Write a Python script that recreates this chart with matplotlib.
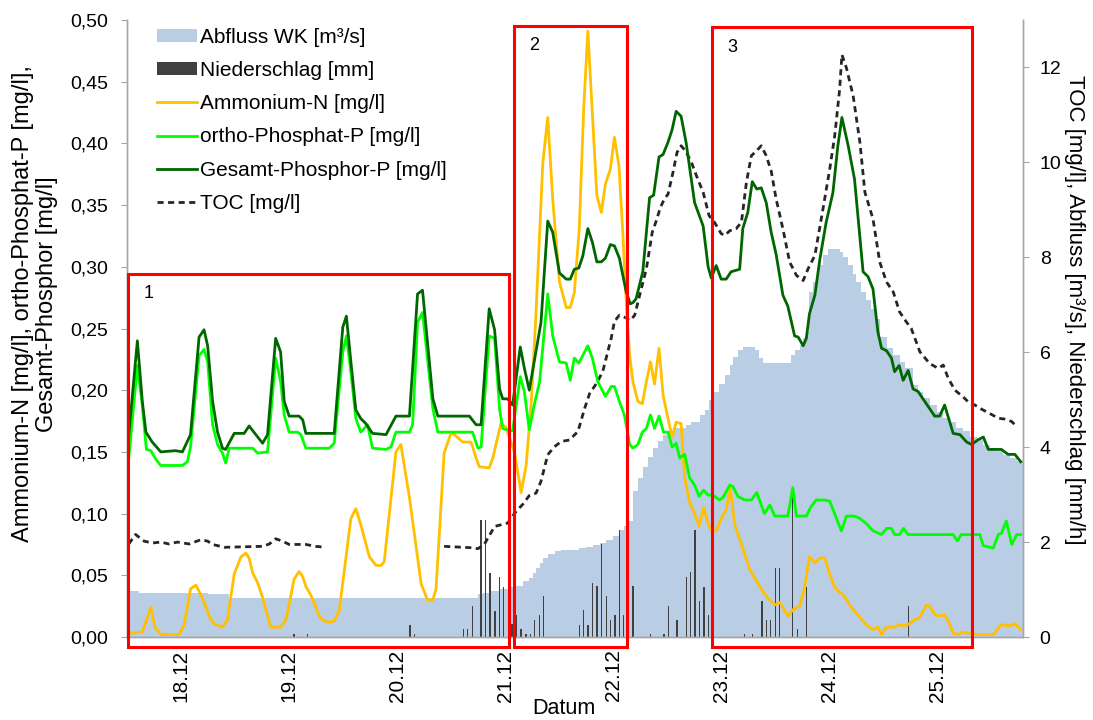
import numpy as np
import matplotlib
matplotlib.use("Agg")
import matplotlib.pyplot as plt
from matplotlib.patches import Rectangle, Patch
from matplotlib.lines import Line2D

plt.rcParams['font.family'] = ['Liberation Sans', 'DejaVu Sans']

# time axis: hours since 17.12. 00:00
day_ticks = [24, 48, 72, 96, 120, 144, 168, 192]
day_labels = ['18.12', '19.12', '20.12', '21.12', '22.12', '23.12', '24.12', '25.12']

left_ticks = [0, 0.05, 0.10, 0.15, 0.20, 0.25, 0.30, 0.35, 0.40, 0.45, 0.50]
left_labels = ['0,00', '0,05', '0,10', '0,15', '0,20', '0,25', '0,30', '0,35', '0,40', '0,45', '0,50']
right_ticks = [0, 2, 4, 6, 8, 10, 12]

# Abfluss WK [m3/s]
q_t = [12.0, 14.7, 17.6, 25.0, 30.0, 34.7, 88.7, 89.9, 91.0, 92.4, 94.7, 96.5, 98.4, 99.9,
       101.3, 102.1, 102.8, 103.6, 104.3, 105.4, 106.9, 108.4, 110.2, 112.4, 113.9, 115.4,
       116.9, 118.4, 119.9, 121.3, 122.4, 123.2, 124.3, 125.4, 126.5, 127.6, 128.7, 129.9,
       131.0, 132.1, 133.2, 134.7, 136.1, 137.3, 139.1, 140.2, 141.3, 142.4, 143.5, 144.7,
       145.8, 146.5, 147.6, 148.7, 150.2, 151.3, 152.4, 153.2, 158.7, 159.5, 160.2, 161.3,
       162.1, 162.8, 163.5, 164.3, 165.4, 166.5, 167.6, 169.5, 170.2, 171.0, 172.1, 173.2,
       173.9, 175.0, 176.1, 177.2, 178.0, 179.1, 180.6, 182.1, 183.5, 184.7, 186.5, 187.6,
       188.7, 190.2, 191.7, 193.2, 194.7, 196.1, 197.6, 199.1, 200.6, 202.1, 203.5, 205.0,
       206.5, 208.0, 209.5, 210.9]
q_v = [0.97, 0.93, 0.92, 0.92, 0.90, 0.83, 0.83, 0.90, 0.93, 0.97, 1.02, 1.05, 1.07, 1.18,
       1.25, 1.35, 1.46, 1.56, 1.67, 1.74, 1.81, 1.84, 1.84, 1.88, 1.89, 1.93,
       1.98, 2.05, 2.12, 2.26, 2.33, 2.44, 3.07, 3.35, 3.59, 3.80, 3.98, 4.12,
       4.26, 4.33, 4.40, 4.41, 4.47, 4.54, 4.68, 4.78, 4.99, 5.17, 5.34, 5.52,
       5.73, 5.90, 6.04, 6.11, 6.11, 6.04, 5.87, 5.78, 5.78, 5.94, 6.04, 6.15,
       6.29, 6.43, 7.26, 7.48, 7.83, 8.04, 8.18, 8.18, 8.11, 8.00, 7.83, 7.65,
       7.48, 7.27, 7.09, 6.92, 6.71, 6.32, 6.08, 5.94, 5.80, 5.66, 5.31, 5.17,
       5.03, 4.89, 4.75, 4.61, 4.54, 4.40, 4.33, 4.22, 4.15, 4.05, 3.98, 3.91,
       3.84, 3.77, 3.70, 3.64]

# Niederschlag [mm/h]
rain_t = [49.1, 52.1, 74.8, 75.8, 86.7, 87.6, 88.7, 90.6, 91.6, 92.6, 93.7, 94.7, 95.6,
          97.5, 98.5, 99.5, 100.6, 101.5, 102.4, 103.6, 104.5, 112.4, 113.4, 114.3, 115.3,
          116.3, 117.3, 118.4, 119.3, 120.3, 121.3, 122.2, 124.3, 128.2, 131.2, 132.2,
          134.1, 136.2, 137.1, 138.1, 139.1, 140.1, 141.1, 149.1, 150.9, 153.0, 153.9,
          154.9, 156.0, 156.9, 159.8, 160.8, 162.8, 185.5]
rain_v = [0.06, 0.06, 0.25, 0.06, 0.16, 0.16, 0.65, 2.47, 2.47, 1.35, 0.55, 1.26, 1.05,
          0.27, 0.46, 0.17, 0.06, 0.06, 0.36, 0.46, 0.86, 0.25, 0.56, 0.25, 1.14,
          1.07, 1.96, 0.86, 0.36, 0.46, 2.26, 0.46, 1.07, 0.06, 0.06, 0.65,
          0.36, 1.26, 1.37, 2.26, 0.76, 1.06, 0.46, 0.06, 0.06, 0.76, 0.36,
          0.36, 1.46, 1.46, 3.15, 0.16, 1.06, 0.65]

# Ammonium-N [mg/l]
nh_t = [12.4, 15.4, 17.3, 18.2, 19.5, 23.6, 24.7, 26.1, 27.3, 28.7, 30.6, 31.7, 33.2, 34.3,
        35.8, 37.3, 38.4, 39.1, 39.9, 41.0, 42.1, 43.9, 46.1, 47.3, 49.1, 50.2, 51.0, 51.7,
        52.8, 54.7, 55.8, 56.9, 58.0, 59.1, 61.7, 62.8, 63.9, 65.8, 67.3, 68.4, 69.1, 71.7,
        72.8, 74.7, 77.3, 78.7, 79.9, 80.6, 82.4, 83.9, 84.7, 86.5, 88.4, 89.5, 90.2, 92.4,
        93.2, 95.0, 96.1, 98.0, 99.5, 100.6, 101.7, 102.7, 104.3, 105.4, 106.5, 108.0, 109.5,
        110.4, 111.3, 112.4, 113.4, 114.3, 115.3, 116.3, 117.3, 118.2, 119.3, 120.2, 121.2,
        122.1, 123.0, 123.6, 124.3, 125.4, 126.4, 127.3, 128.2, 129.1, 130.1, 131.0, 132.1,
        133.0, 133.9, 135.0, 135.8, 136.9, 138.0, 139.0, 140.0, 141.0, 141.7, 142.8, 143.9,
        145.0, 145.9, 146.9, 148.7, 150.2, 152.1, 153.9, 155.8, 156.9, 158.7, 159.8, 161.3,
        162.4, 163.5, 164.7, 165.8, 166.9, 168.0, 169.1, 171.0, 172.8, 174.7, 176.1, 177.6,
        178.7, 179.5, 180.6, 182.4, 183.5, 184.7, 185.8, 186.9, 188.0, 189.5, 190.2, 191.3,
        192.4, 193.5, 194.7, 195.4, 196.5, 197.6, 199.1, 200.6, 204.3, 206.1, 208.0, 209.1,
        210.4]
nh_v = [0.003, 0.004, 0.024, 0.008, 0.002, 0.002, 0.010, 0.039, 0.042, 0.032, 0.014, 0.010, 0.008, 0.014,
        0.051, 0.065, 0.068, 0.064, 0.052, 0.044, 0.032, 0.008, 0.008, 0.014, 0.047, 0.053, 0.049, 0.041,
        0.034, 0.017, 0.013, 0.012, 0.013, 0.021, 0.096, 0.104, 0.091, 0.065, 0.058, 0.058, 0.061, 0.150,
        0.156, 0.113, 0.043, 0.030, 0.030, 0.039, 0.149, 0.165, 0.164, 0.158, 0.158, 0.145, 0.138, 0.137,
        0.145, 0.173, 0.170, 0.150, 0.117, 0.139, 0.188, 0.255, 0.384, 0.421, 0.355, 0.288, 0.267,
        0.267, 0.279, 0.331, 0.430, 0.491, 0.425, 0.358, 0.344, 0.367, 0.379, 0.405, 0.382,
        0.325, 0.258, 0.228, 0.207, 0.191, 0.189, 0.207, 0.223, 0.205, 0.234, 0.196, 0.177,
        0.162, 0.174, 0.173, 0.129, 0.109, 0.100, 0.090, 0.105, 0.092, 0.086, 0.086, 0.096,
        0.103, 0.121, 0.091, 0.072, 0.055, 0.043, 0.033, 0.026, 0.028, 0.017, 0.022, 0.025,
        0.040, 0.065, 0.060, 0.064, 0.064, 0.051, 0.040, 0.034, 0.024, 0.016, 0.010, 0.006,
        0.008, 0.002, 0.008, 0.008, 0.010, 0.009, 0.011, 0.014, 0.016, 0.026, 0.025, 0.018,
        0.017, 0.018, 0.010, 0.003, 0.002, 0.004, 0.003, 0.002, 0.002, 0.010, 0.009, 0.011,
        0.006]

# ortho-Phosphat-P [mg/l]
op_t = [12.4, 14.3, 15.4, 16.3, 17.3, 18.4, 19.5, 24.3, 25.4, 26.1, 28.0, 29.1, 29.9, 31.0,
        32.1, 33.2, 33.9, 34.7, 39.9, 41.0, 43.2, 45.0, 46.1, 46.9, 48.0, 49.9, 50.6, 51.7,
        56.9, 58.0, 59.9, 60.7, 61.7, 62.8, 63.9, 65.4, 66.5, 69.5, 70.6, 71.7, 74.7, 75.4,
        76.5, 77.6, 79.9, 81.0, 88.7, 89.9, 90.6, 92.4, 93.6, 94.7, 95.4, 96.2, 97.6, 99.3,
        100.2, 101.3, 102.4, 103.6, 105.4, 106.5, 108.0, 109.5, 110.4, 111.3, 112.3, 114.3,
        115.3, 116.5, 118.2, 119.5, 120.2, 121.3, 122.4, 123.6, 124.3, 125.4, 126.4, 127.3,
        128.2, 129.1, 130.1, 131.1, 132.1, 133.0, 133.9, 134.7, 135.8, 136.9, 138.0, 139.0,
        140.0, 141.0, 142.1, 143.5, 144.3, 145.8, 146.5, 147.6, 149.1, 150.6, 151.8, 153.5,
        154.7, 155.8, 158.7, 159.8, 160.6, 162.8, 163.9, 165.0, 166.9, 168.0, 169.5, 170.6,
        171.7, 173.5, 174.7, 176.1, 177.6, 179.5, 180.6, 181.7, 182.4, 183.5, 184.4, 185.4,
        195.4, 196.3, 197.2, 201.3, 202.1, 204.3, 205.4, 206.1, 207.2, 208.4, 209.5, 210.4]
op_v = [0.145, 0.220, 0.188, 0.152, 0.151, 0.144, 0.139, 0.139, 0.142, 0.154, 0.228, 0.233, 0.223, 0.172,
        0.156, 0.149, 0.141, 0.153, 0.153, 0.149, 0.150, 0.226, 0.207, 0.180, 0.166, 0.166, 0.164, 0.153,
        0.153, 0.157, 0.231, 0.244, 0.215, 0.177, 0.166, 0.172, 0.153, 0.152, 0.154, 0.166, 0.166, 0.172,
        0.255, 0.263, 0.185, 0.166, 0.166, 0.153, 0.154, 0.244, 0.242, 0.185, 0.169, 0.168, 0.167, 0.211,
        0.199, 0.168, 0.188, 0.207, 0.278, 0.244, 0.223, 0.222, 0.208, 0.226, 0.222, 0.236,
        0.226, 0.207, 0.195, 0.203, 0.203, 0.191, 0.180, 0.156, 0.153, 0.156, 0.166, 0.169,
        0.180, 0.169, 0.179, 0.166, 0.166, 0.154, 0.157, 0.145, 0.148, 0.129, 0.123, 0.114,
        0.119, 0.115, 0.115, 0.111, 0.113, 0.123, 0.122, 0.114, 0.111, 0.111, 0.117, 0.100,
        0.107, 0.098, 0.098, 0.121, 0.098, 0.098, 0.106, 0.111, 0.111, 0.110, 0.096, 0.086,
        0.098, 0.098, 0.096, 0.092, 0.086, 0.083, 0.088, 0.088, 0.083, 0.083, 0.088, 0.083,
        0.083, 0.078, 0.083, 0.083, 0.074, 0.072, 0.083, 0.084, 0.094, 0.075, 0.083, 0.083]

# Gesamt-Phosphor-P [mg/l]
gp_t = [12.4, 14.3, 15.4, 16.2, 17.6, 19.5, 22.8, 24.3, 26.1, 28.0, 29.1, 29.9, 31.0, 32.1,
        33.2, 33.9, 35.8, 38.0, 39.1, 40.6, 42.1, 43.2, 45.0, 46.1, 46.9, 48.0, 50.2, 51.0,
        51.7, 58.0, 59.9, 60.7, 61.7, 62.8, 63.9, 65.0, 66.5, 69.5, 71.7, 74.7, 76.5, 77.6,
        79.9, 81.0, 88.0, 89.5, 90.6, 92.4, 93.6, 94.7, 95.4, 96.5, 97.6, 99.3, 100.2, 101.3,
        103.9, 105.4, 106.5, 108.0, 109.5, 110.4, 111.3, 112.3, 113.2, 114.3, 115.3, 116.3,
        117.3, 118.2, 119.3, 120.2, 121.3, 122.8, 123.7, 124.3, 125.0, 126.5, 128.0, 128.9,
        130.1, 131.0, 132.1, 133.0, 133.9, 135.0, 136.1, 138.0, 139.9, 141.0, 141.7, 142.8,
        143.9, 145.0, 146.1, 148.0, 148.7, 149.8, 150.8, 151.8, 152.8, 153.9, 155.0, 156.1,
        157.6, 158.7, 160.2, 161.0, 162.1, 162.8, 163.5, 164.7, 165.8, 167.2, 168.7, 169.8,
        170.7, 172.1, 173.5, 175.4, 176.5, 177.6, 178.7, 179.5, 180.6, 181.7, 182.4, 183.4,
        184.3, 185.4, 186.5, 187.6, 188.7, 190.2, 191.3, 192.4, 193.5, 195.4, 196.9, 198.4,
        199.5, 201.0, 202.1, 203.2, 206.1, 207.6, 209.1, 210.4]
gp_v = [0.164, 0.240, 0.191, 0.166, 0.158, 0.150, 0.151, 0.150, 0.164, 0.243, 0.249, 0.236, 0.191, 0.166,
        0.153, 0.152, 0.165, 0.165, 0.171, 0.164, 0.157, 0.164, 0.242, 0.231, 0.191, 0.179, 0.179, 0.176,
        0.165, 0.165, 0.251, 0.260, 0.223, 0.184, 0.177, 0.173, 0.165, 0.164, 0.179, 0.179, 0.278, 0.281,
        0.193, 0.179, 0.179, 0.172, 0.172, 0.266, 0.249, 0.201, 0.193, 0.193, 0.188, 0.235, 0.218, 0.200,
        0.255, 0.337, 0.328, 0.295, 0.290, 0.290, 0.298, 0.299, 0.309, 0.331, 0.320, 0.304,
        0.304, 0.307, 0.318, 0.317, 0.307, 0.280, 0.270, 0.271, 0.274, 0.296, 0.356, 0.358,
        0.389, 0.391, 0.401, 0.411, 0.426, 0.422, 0.401, 0.352, 0.333, 0.300, 0.291, 0.301,
        0.290, 0.290, 0.296, 0.298, 0.331, 0.344, 0.369, 0.363, 0.364, 0.352, 0.328, 0.310,
        0.277, 0.268, 0.244, 0.243, 0.236, 0.242, 0.262, 0.277, 0.306, 0.336, 0.360, 0.398,
        0.421, 0.398, 0.371, 0.296, 0.292, 0.282, 0.247, 0.234, 0.232, 0.226, 0.215, 0.220,
        0.208, 0.216, 0.201, 0.199, 0.193, 0.185, 0.179, 0.179, 0.188, 0.165, 0.164, 0.158,
        0.156, 0.160, 0.162, 0.152, 0.152, 0.148, 0.148, 0.142]

# TOC [mg/l] (gap = no measurement)
toc_t = [12.4, 13.9, 15.8, 17.6, 19.5, 21.3, 23.2, 25.8, 28.4, 29.9, 31.0, 33.6, 42.1, 43.6,
         45.0, 46.5, 48.0, 51.7, 53.9, 56.1, 70.0, 82.4, 88.7, 89.9, 91.3, 93.6, 96.5, 98.4,
         99.9, 101.3, 102.8, 103.9, 105.4, 106.9, 108.4, 110.2, 112.1, 113.6, 114.7, 116.2,
         117.6, 119.5, 120.2, 121.3, 122.4, 123.7, 124.7, 125.8, 127.3, 128.6, 129.5, 130.4,
         131.3, 132.1, 133.2, 134.1, 135.0, 136.0, 137.3, 138.4, 139.9, 141.2, 142.4, 143.9,
         144.7, 145.8, 147.2, 148.4, 149.5, 150.6, 151.7, 152.8, 153.9, 155.0, 156.1, 157.6,
         159.1, 160.6, 162.1, 163.2, 164.7, 166.5, 168.0, 169.1, 170.2, 170.7, 171.7, 173.2,
         174.7, 175.8, 177.6, 179.1, 180.6, 182.1, 183.5, 185.0, 186.1, 188.0, 190.2, 192.1,
         193.2, 194.3, 195.8, 197.6, 199.1, 200.2, 201.3, 203.5, 205.4, 206.9, 208.4, 209.3]
toc_v = [1.96, 2.16, 2.02, 1.98, 2.00, 1.96, 2.00, 1.96, 2.05, 2.02, 1.95, 1.89, 1.91, 1.96,
         2.07, 2.02, 1.95, 1.95, 1.91, 1.89, np.nan, 1.91, 1.88, 1.86, 1.95, 2.33, 2.40, 2.65,
         2.80, 2.98, 3.03, 3.28, 3.84, 4.01, 4.12, 4.15, 4.33, 4.82, 5.13, 5.34,
         5.59, 6.30, 6.65, 6.78, 6.74, 6.67, 6.78, 7.20, 7.76, 8.53, 8.77, 9.05,
         9.23, 9.33, 9.79, 10.21, 10.35, 10.24, 10.00, 9.72, 9.37, 8.88, 8.74, 8.50,
         8.46, 8.56, 8.60, 8.74, 9.58, 10.14, 10.24, 10.35, 10.14, 9.82, 9.23, 8.60,
         7.90, 7.62, 7.51, 7.76, 8.04, 9.02, 9.86, 10.56, 11.54, 12.27, 11.99, 11.40,
         10.42, 9.37, 8.81, 7.90, 7.48, 7.27, 6.85, 6.64, 6.50, 6.01, 5.76, 5.66,
         5.73, 5.45, 5.20, 5.06, 4.92, 4.89, 4.82, 4.71, 4.61, 4.59, 4.54, 4.45]

c_q = '#b9cde5'
c_rain = '#404040'
c_nh = '#ffc000'
c_op = '#00ff00'
c_gp = '#006600'
c_toc = '#262626'
grey = '#a6a6a6'

fig = plt.figure(figsize=(10.93, 7.2), dpi=100)
ax = fig.add_axes([127/1093, 1-637/720, 896/1093, 617/720])
ax2 = ax.twinx()
ax.set_zorder(ax2.get_zorder() + 1)
ax.patch.set_visible(False)

ax2.fill_between(q_t, 0, q_v, step='post', color=c_q, lw=0)
ax2.bar(rain_t, rain_v, width=0.3, color=c_rain, lw=0)
ax2.plot(toc_t, toc_v, color=c_toc, lw=2, ls=(0, (2.2, 1.6)))

ax.plot(nh_t, nh_v, color=c_nh, lw=2)
ax.plot(op_t, op_v, color=c_op, lw=2)
ax.plot(gp_t, gp_v, color=c_gp, lw=2)

ax.set_xlim(12, 210.9)
ax.set_ylim(0, 0.5)
ax2.set_ylim(0, 13)

ax.set_yticks(left_ticks)
ax.set_yticklabels(left_labels)
ax2.set_yticks(right_ticks)
ax.set_xticks(day_ticks)
ax.set_xticklabels(day_labels, rotation=90)

for a in (ax, ax2):
    a.spines['top'].set_visible(False)
    for s in ('left', 'right', 'bottom'):
        a.spines[s].set_color(grey)
        a.spines[s].set_linewidth(1)
ax.tick_params(axis='y', direction='out', length=4, color=grey, labelsize=14, pad=9.5)
ax2.tick_params(axis='y', direction='out', length=4, color=grey, labelsize=14, pad=8)
ax.tick_params(axis='x', length=0, labelsize=15, pad=9)

# marked periods
boxes = [(12.3, 96.7, 0.294, '1'), (97.8, 123.1, 0.495, '2'), (141.8, 199.6, 0.494, '3')]
for x0, x1, top, lab in boxes:
    ax.add_patch(Rectangle((x0, -0.008), x1 - x0, top + 0.008, fill=False,
                           edgecolor='#ff0000', lw=2.2, clip_on=False, zorder=5))
    ax.text(x0 + 3.5, top - 0.016, lab, fontsize=13, ha='left', va='center', zorder=6)

fig.text(35/1093, 1-304/720, 'Ammonium-N [mg/l], ortho-Phosphat-P [mg/l],\nGesamt-Phosphor [mg/l]',
         rotation=90, ha='center', va='center', fontsize=17, multialignment='center',
         linespacing=1.1)
fig.text(1075/1093, 1-310/720, 'TOC [mg/l], Abfluss [m³/s], Niederschlag [mm/h]',
         rotation=-90, ha='center', va='center', fontsize=16)
fig.text(564/1093, 1-708/720, 'Datum', ha='center', va='center', fontsize=15.5)

handles = [Patch(facecolor=c_q, edgecolor='none'),
           Patch(facecolor=c_rain, edgecolor='none'),
           Line2D([], [], color=c_nh, lw=2),
           Line2D([], [], color=c_op, lw=2),
           Line2D([], [], color=c_gp, lw=2),
           Line2D([], [], color=c_toc, lw=2, ls=(0, (2.2, 1.6)))]
labels = ['Abfluss WK [m³/s]', 'Niederschlag [mm]', 'Ammonium-N [mg/l]',
          'ortho-Phosphat-P [mg/l]', 'Gesamt-Phosphor-P [mg/l]', 'TOC [mg/l]']
fig.legend(handles, labels, loc='upper left', bbox_to_anchor=(157/1093, 1-28/720),
           frameon=False, fontsize=15, borderpad=0, borderaxespad=0,
           handlelength=1.9, handletextpad=0.15, labelspacing=0.68, handleheight=0.6)

fig.savefig('out.png', dpi=100)
